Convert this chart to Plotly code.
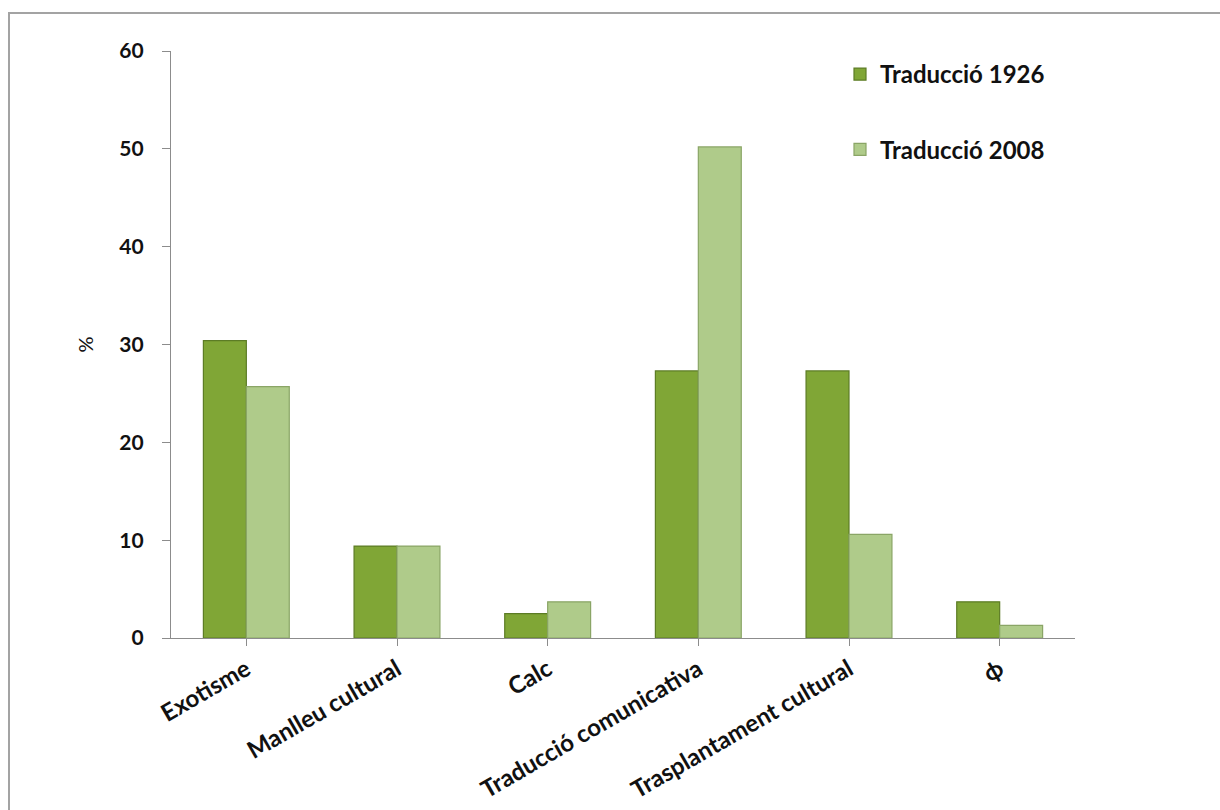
import plotly.graph_objects as go

categories = ["Exotisme", "Manlleu cultural", "Calc", "Traducció comunicativa",
              "Trasplantament cultural", "ϕ"]
series_names = ["Traducció 1926", "Traducció 2008"]
values_1926 = [30.4, 9.4, 2.5, 27.3, 27.3, 3.7]
values_2008 = [25.7, 9.4, 3.7, 50.2, 10.6, 1.3]
y_ticks = [0, 10, 20, 30, 40, 50, 60]

FONT = "Lato"

fig = go.Figure()
fig.add_trace(go.Bar(
    x=categories, y=values_1926, name=series_names[0], legendgroup="a",
    marker=dict(color="#80a636", line=dict(color="#5c7c25", width=1.2)),
))
fig.add_trace(go.Bar(
    x=categories, y=values_2008, name=series_names[1], legendgroup="b",
    marker=dict(color="#afcb8a", line=dict(color="#8aa566", width=1.2)),
))

W, H = 1220, 810
L, R, T, B = 171, 145, 51, 172
pw, ph = W - L - R, H - T - B

def px_x(p):
    return (p - L) / pw

def px_y(p):
    return (H - B - p) / ph

fig.add_shape(type="rect", xref="paper", yref="paper",
              x0=px_x(9), x1=px_x(1230), y0=px_y(830), y1=px_y(13),
              line=dict(color="#a3a3a3", width=2), fillcolor="rgba(0,0,0,0)",
              layer="below")

fig.update_layout(
    width=W, height=H,
    margin=dict(l=L, r=R, t=T, b=B, autoexpand=False),
    paper_bgcolor="white", plot_bgcolor="white",
    barmode="group", bargap=0.43, bargroupgap=0,
    font=dict(family=FONT, color="#1a1a1a"),
    showlegend=True,
    legend=dict(x=px_x(840), y=px_y(52), xanchor="left", yanchor="top",
                font=dict(family=FONT, size=24, color="#111", weight="bold"),
                tracegroupgap=41, bgcolor="rgba(0,0,0,0)",
                itemwidth=30),
    xaxis=dict(
        automargin=False,
        showline=True, linecolor="#8c8c8c", linewidth=1.2,
        ticks="outside", ticklen=7, tickcolor="#8c8c8c",
        tickangle=-30, showgrid=False,
        tickfont=dict(family=FONT, size=24, color="#111", weight="bold"),
    ),
    yaxis=dict(
        automargin=False,
        range=[0, 60], tickvals=y_ticks, showgrid=False, zeroline=False,
        showline=True, linecolor="#8c8c8c", linewidth=1.2,
        ticks="outside", ticklen=8, tickcolor="#8c8c8c",
        ticklabelstandoff=14,
        tickfont=dict(family=FONT, size=21, color="#111", weight="bold"),
        title=dict(text="%", standoff=20,
                   font=dict(family=FONT, size=20, color="#111")),
    ),
)

fig.write_html("out.html")
